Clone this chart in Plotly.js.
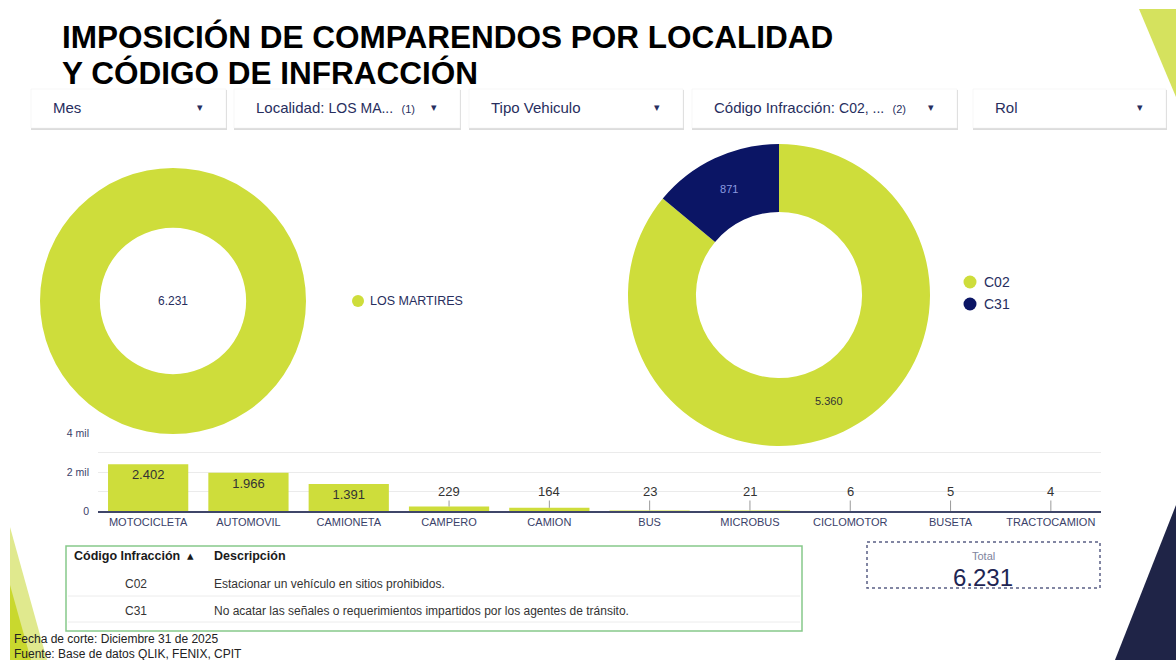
<!DOCTYPE html>
<html>
<head>
<meta charset="utf-8">
<script src="https://cdn.plot.ly/plotly-3.0.1.min.js"></script>
<style>
html,body{margin:0;padding:0;background:#fff;}
#chart{width:1176px;height:660px;}
</style>
</head>
<body>
<div id="chart"></div>
<script>
// ---------------- DATA ----------------
const localidades = ['LOS MARTIRES'];
const localidadValues = [6231];

const codigos = ['C02', 'C31'];
const codigoValues = [5360, 871];
const descripciones = [
  'Estacionar un vehículo en sitios prohibidos.',
  'No acatar las señales o requerimientos impartidos por los agentes de tránsito.'
];

const vehiculos = ['MOTOCICLETA', 'AUTOMOVIL', 'CAMIONETA', 'CAMPERO', 'CAMION',
                   'BUS', 'MICROBUS', 'CICLOMOTOR', 'BUSETA', 'TRACTOCAMION'];
const vehiculoValues = [2402, 1966, 1391, 229, 164, 23, 21, 6, 5, 4];

const yTickVals = [0, 2000, 4000];
const yTickText = ['0', '2 mil', '4 mil'];

const titleLines = ['IMPOSICIÓN DE COMPARENDOS POR LOCALIDAD', 'Y CÓDIGO DE INFRACCIÓN'];
const filterLabels = ['Mes', 'Localidad', 'Tipo Vehiculo', 'Código Infracción', 'Rol'];
const filterSelections = ['', 'LOS MA...', '', 'C02, ...', ''];
const filterCounts = ['', '(1)', '', '(2)', ''];
const tableHeaders = ['Código Infracción', 'Descripción'];
const totalLabel = 'Total';
const footerLines = ['Fecha de corte: Diciembre 31 de 2025', 'Fuente: Base de datos QLIK, FENIX, CPIT'];

// ---------------- HELPERS ----------------
const W = 1176, H = 660;
const X = px => px / W;
const Y = py => 1 - py / H;
const fmt = v => String(v).replace(/\B(?=(\d{3})+(?!\d))/g, '.');
const sum = a => a.reduce((s, v) => s + v, 0);

const ARIAL = '"Liberation Sans", Arial, sans-serif';
const LIME = '#CEDD3B';
const NAVY_SLICE = '#0B1565';
const TXT_NAVY = '#272E5E';

const shapes = [];
const annotations = [];

// decorative triangles
shapes.push({type:'path', xref:'paper', yref:'paper', layer:'below',
  path:`M ${X(1139)} ${Y(9)} L ${X(1176)} ${Y(9)} L ${X(1176)} ${Y(97)} Z`,
  fillcolor:'#D5E25E', line:{width:0}});
shapes.push({type:'path', xref:'paper', yref:'paper', layer:'below',
  path:`M ${X(1176)} ${Y(505)} L ${X(1176)} ${Y(660)} L ${X(1115)} ${Y(660)} Z`,
  fillcolor:'#1F2447', line:{width:0}});
shapes.push({type:'path', xref:'paper', yref:'paper', layer:'below',
  path:`M ${X(10)} ${Y(527)} L ${X(47)} ${Y(660)} L ${X(10)} ${Y(660)} Z`,
  fillcolor:'#E0E98E', line:{width:0}});
shapes.push({type:'path', xref:'paper', yref:'paper', layer:'below',
  path:`M ${X(10)} ${Y(585)} L ${X(31)} ${Y(660)} L ${X(10)} ${Y(660)} Z`,
  fillcolor:'#C9D82E', line:{width:0}});

// title
const titleY = [37, 73];
titleLines.forEach((t, i) => annotations.push({
  xref:'paper', yref:'paper', x:X(60), y:Y(titleY[i]), xanchor:'left', yanchor:'middle',
  text:'<b>' + t + '</b>', showarrow:false, font:{family:ARIAL, size:31.5, color:'#000'}
}));

// filter boxes
const boxes = [[31,226],[234,460],[469,683],[692,957],[973,1166]];
boxes.forEach((b, i) => {
  const y0 = 89, y1 = 128;
  shapes.push({type:'rect', xref:'paper', yref:'paper', layer:'below',
    x0:X(b[0]), x1:X(b[1]+1), y0:Y(y0+1), y1:Y(y1+2), fillcolor:'#dcdcdc', line:{width:0}});
  shapes.push({type:'rect', xref:'paper', yref:'paper', layer:'below',
    x0:X(b[0]), x1:X(b[1]), y0:Y(y0), y1:Y(y1), fillcolor:'#ffffff', line:{width:0.5, color:'#ececec'}});
  let txt = filterLabels[i];
  if (filterSelections[i]) {
    txt += ': <span style="font-size:14px">' + filterSelections[i] + '</span>' +
           '  <span style="font-size:11px">' + filterCounts[i] + '</span>';
  }
  annotations.push({xref:'paper', yref:'paper', x:X(b[0]+20), y:Y(108), xanchor:'left', yanchor:'middle',
    text:txt, showarrow:false, font:{family:ARIAL, size:15, color:TXT_NAVY}});
  annotations.push({xref:'paper', yref:'paper', x:X(b[1]-26), y:Y(107), xanchor:'center', yanchor:'middle',
    text:'▾', showarrow:false, font:{family:'"DejaVu Sans", sans-serif', size:11, color:TXT_NAVY}});
});

// left donut center text + legend
annotations.push({xref:'paper', yref:'paper', x:X(173), y:Y(301), xanchor:'center', yanchor:'middle',
  text:fmt(sum(localidadValues)), showarrow:false, font:{family:ARIAL, size:12, color:TXT_NAVY}});
localidades.forEach((l, i) => {
  const cy = 301 + i * 22;
  shapes.push({type:'circle', xref:'paper', yref:'paper', x0:X(352), x1:X(364), y0:Y(cy-6), y1:Y(cy+6),
    fillcolor:LIME, line:{width:0}});
  annotations.push({xref:'paper', yref:'paper', x:X(368), y:Y(cy), xanchor:'left', yanchor:'middle',
    text:l, showarrow:false, font:{family:ARIAL, size:12.5, color:TXT_NAVY}});
});

// right donut legend
const codeColors = [LIME, NAVY_SLICE];
codigos.forEach((c, i) => {
  const cy = 282 + i * 22;
  shapes.push({type:'circle', xref:'paper', yref:'paper', x0:X(963.5), x1:X(976.5), y0:Y(cy-6.5), y1:Y(cy+6.5),
    fillcolor:codeColors[i], line:{width:0}});
  annotations.push({xref:'paper', yref:'paper', x:X(982), y:Y(cy), xanchor:'left', yanchor:'middle',
    text:c, showarrow:false, font:{family:ARIAL, size:14, color:TXT_NAVY}});
});

// bar labels for small bars (leader lines)
const INSIDE_MIN = 1000;
vehiculos.forEach((v, i) => {
  if (vehiculoValues[i] < INSIDE_MIN) {
    annotations.push({xref:'x', yref:'y', axref:'x', ayref:'y', x:v, y:vehiculoValues[i], ax:v, ay:1000,
      text:fmt(vehiculoValues[i]), showarrow:true, arrowhead:0, arrowwidth:1, arrowcolor:'#9a9a9a',
      standoff:0, font:{family:ARIAL, size:13, color:'#333'}});
  }
});

// table border + separators
shapes.push({type:'rect', xref:'paper', yref:'paper', layer:'above',
  x0:X(66), x1:X(802), y0:Y(546), y1:Y(631), line:{color:'#86C98A', width:1.5}, fillcolor:'rgba(0,0,0,0)'});
[596, 622].forEach(py => shapes.push({type:'line', xref:'paper', yref:'paper', layer:'above',
  x0:X(68), x1:X(800), y0:Y(py), y1:Y(py), line:{color:'#ececec', width:1}}));

// total box
shapes.push({type:'rect', xref:'paper', yref:'paper', layer:'below',
  x0:X(867), x1:X(1100), y0:Y(542), y1:Y(588), line:{color:'#5a5f85', width:1.5, dash:'dot'}, fillcolor:'rgba(0,0,0,0)'});
annotations.push({xref:'paper', yref:'paper', x:X(983), y:Y(556), xanchor:'center', yanchor:'middle',
  text:totalLabel, showarrow:false, font:{family:ARIAL, size:11, color:'#80849e'}});
annotations.push({xref:'paper', yref:'paper', x:X(983), y:Y(577), xanchor:'center', yanchor:'middle',
  text:fmt(sum(localidadValues)), showarrow:false, font:{family:ARIAL, size:24, color:'#1E2553'}});

// footer
footerLines.forEach((t, i) => annotations.push({xref:'paper', yref:'paper', x:X(12), y:Y(639 + i*15),
  xanchor:'left', yanchor:'middle', text:t, showarrow:false, font:{family:ARIAL, size:12, color:'#222'}}));

// ---------------- TRACES ----------------
const traces = [
  {
    type:'pie', labels:localidades, values:localidadValues, hole:0.55, sort:false,
    domain:{x:[X(40), X(306)], y:[Y(434), Y(168)]},
    marker:{colors:[LIME], line:{width:0}}, textinfo:'none', showlegend:false, hoverinfo:'label+value'
  },
  {
    type:'pie', labels:codigos, values:codigoValues, hole:0.55, sort:false, direction:'clockwise', rotation:0,
    domain:{x:[X(628), X(930)], y:[Y(446), Y(144)]},
    marker:{colors:codeColors, line:{width:0}},
    texttemplate:'%{value:,}', textposition:'inside', insidetextorientation:'horizontal',
    textfont:{family:ARIAL, size:11, color:['#333333', '#8C9BE0']}, showlegend:false
  },
  {
    type:'bar', x:vehiculos, y:vehiculoValues, marker:{color:LIME, line:{width:0}},
    text:vehiculoValues.map(v => v >= INSIDE_MIN ? fmt(v) : ''), textposition:'inside',
    insidetextanchor:'end', textangle:0, constraintext:'none',
    insidetextfont:{family:ARIAL, size:13, color:'#333'}, showlegend:false, width:0.8
  },
  {
    type:'table', domain:{x:[X(66), X(802)], y:[Y(631), Y(541)]}, columnwidth:[140, 596],
    header:{
      values:['<b>' + tableHeaders[0] + '</b>  ▴', '<b>' + tableHeaders[1] + '</b>'],
      align:['left', 'left'], height:22, fill:{color:'#ffffff'}, line:{color:'#ffffff', width:0},
      font:{family:ARIAL, size:12.5, color:'#1a1a1a'}
    },
    cells:{
      values:[codigos, descripciones], align:['center', 'left'], height:27,
      fill:{color:'#ffffff'}, line:{color:'#ffffff', width:0},
      font:{family:ARIAL, size:12, color:'#333'}
    }
  }
];

const layout = {
  width:W, height:H, margin:{l:0, r:0, t:0, b:0}, paper_bgcolor:'#fff', plot_bgcolor:'rgba(0,0,0,0)',
  separators:',.', showlegend:false, bargap:0.2,
  font:{family:ARIAL},
  xaxis:{domain:[X(98), X(1101)], showline:true, linecolor:'#3F4669', linewidth:1.5, ticks:'',
    tickfont:{family:ARIAL, size:11, color:'#3A4169'}, showgrid:false, fixedrange:true},
  yaxis:{domain:[Y(511), Y(433)], range:[0, 4000], tickvals:yTickVals, ticktext:yTickText,
    tickfont:{family:ARIAL, size:10.5, color:'#3A4169'}, showgrid:true, gridcolor:'#EBEBEB', zeroline:false,
    ticklabelstandoff:8, minor:{dtick:1000, showgrid:true, gridcolor:'#EBEBEB'}, fixedrange:true},
  shapes:shapes, annotations:annotations
};

Plotly.newPlot('chart', traces, layout, {staticPlot:true, displayModeBar:false});
</script>
</body>
</html>
